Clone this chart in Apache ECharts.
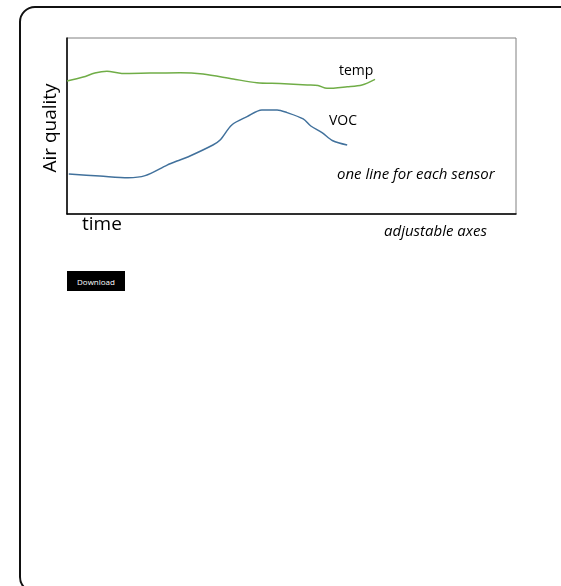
<!DOCTYPE html>
<html>
<head>
<meta charset="utf-8">
<script src="https://cdn.jsdelivr.net/npm/echarts@6/dist/echarts.min.js"></script>
<style>
  html, body { margin: 0; padding: 0; background: #fff; }
  body { width: 561px; height: 586px; position: relative; overflow: hidden; }
  .frame {
    position: absolute; left: 19px; top: 6px; width: 640px; height: 587px;
    border: 2px solid #111; border-radius: 16px; box-sizing: border-box;
  }
  #chart { position: absolute; left: 0; top: 0; width: 561px; height: 586px; }
  .btn {
    position: absolute; left: 67px; top: 271px; width: 58px; height: 20px;
    background: #000; color: #fff; font: 8px "Open Sans", sans-serif;
    display: flex; align-items: center; justify-content: center;
  }
</style>
</head>
<body>
<div class="frame"></div>
<div id="chart"></div>
<div class="btn">Download</div>
<script>
  // time (0-100) and reading (0-100) pairs
  const tempTime = [0, 3.6, 6.2, 8.9, 12.2, 18.5, 25.2, 30.3, 37.0, 42.3, 47.4, 53.5, 55.9, 57.9, 62.4, 65.7, 68.6]
  const tempValues = [75.6, 77.8, 80.1, 81.1, 79.9, 80.1, 80.3, 79.5, 76.7, 74.6, 74.1, 73.3, 73.0, 71.4, 72.3, 73.3, 76.5]
  const vocTime = [0.4, 7.3, 13.6, 17.4, 22.3, 24.5, 26.9, 32.5, 34.1, 36.7, 40.1, 43.4, 46.8, 49.0, 52.6, 54.3, 56.8, 59.2, 62.4]
  const vocValues = [22.7, 21.6, 20.6, 21.8, 27.8, 30.1, 32.4, 39.2, 42.0, 50.6, 55.3, 59.1, 59.1, 57.6, 54.0, 50.0, 46.2, 41.6, 39.2]

  const font = '"Open Sans", sans-serif'
  const chart = echarts.init(document.getElementById('chart'))

  chart.setOption({
    animation: false,
    grid: {
      left: 67, top: 38, width: 449, height: 176,
      show: true, borderColor: '#808080', borderWidth: 1
    },
    xAxis: {
      type: 'value', min: 0, max: 100,
      axisLine: { show: true, lineStyle: { color: '#000', width: 1.5 } },
      axisTick: { show: false }, axisLabel: { show: false }, splitLine: { show: false }
    },
    yAxis: {
      type: 'value', min: 0, max: 100,
      axisLine: { show: true, lineStyle: { color: '#000', width: 1.5 } },
      axisTick: { show: false }, axisLabel: { show: false }, splitLine: { show: false }
    },
    series: [
      {
        name: 'temp', type: 'line', smooth: 0.3, symbol: 'none',
        lineStyle: { color: '#70AD47', width: 1.5 },
        data: tempTime.map((t, i) => [t, tempValues[i]])
      },
      {
        name: 'VOC', type: 'line', smooth: 0.3, symbol: 'none',
        lineStyle: { color: '#41719C', width: 1.5 },
        data: vocTime.map((t, i) => [t, vocValues[i]])
      }
    ],
    graphic: [
      { type: 'text', left: 339, top: 64, style: { text: 'temp', font: '14px ' + font, fill: '#000' } },
      { type: 'text', left: 329, top: 114, style: { text: 'VOC', font: '14px ' + font, fill: '#000' } },
      { type: 'text', left: 337, top: 167, style: { text: 'one line for each sensor', font: 'italic 15px ' + font, fill: '#000' } },
      { type: 'text', left: 384, top: 224, style: { text: 'adjustable axes', font: 'italic 15px ' + font, fill: '#000' } },
      { type: 'text', left: 82, top: 215, style: { text: 'time', font: '19px ' + font, fill: '#000' } },
      { type: 'text', x: 51, y: 128, rotation: Math.PI / 2,
        style: { text: 'Air quality', font: '19px ' + font, fill: '#000', align: 'center', verticalAlign: 'middle' } }
    ]
  })
</script>
</body>
</html>
